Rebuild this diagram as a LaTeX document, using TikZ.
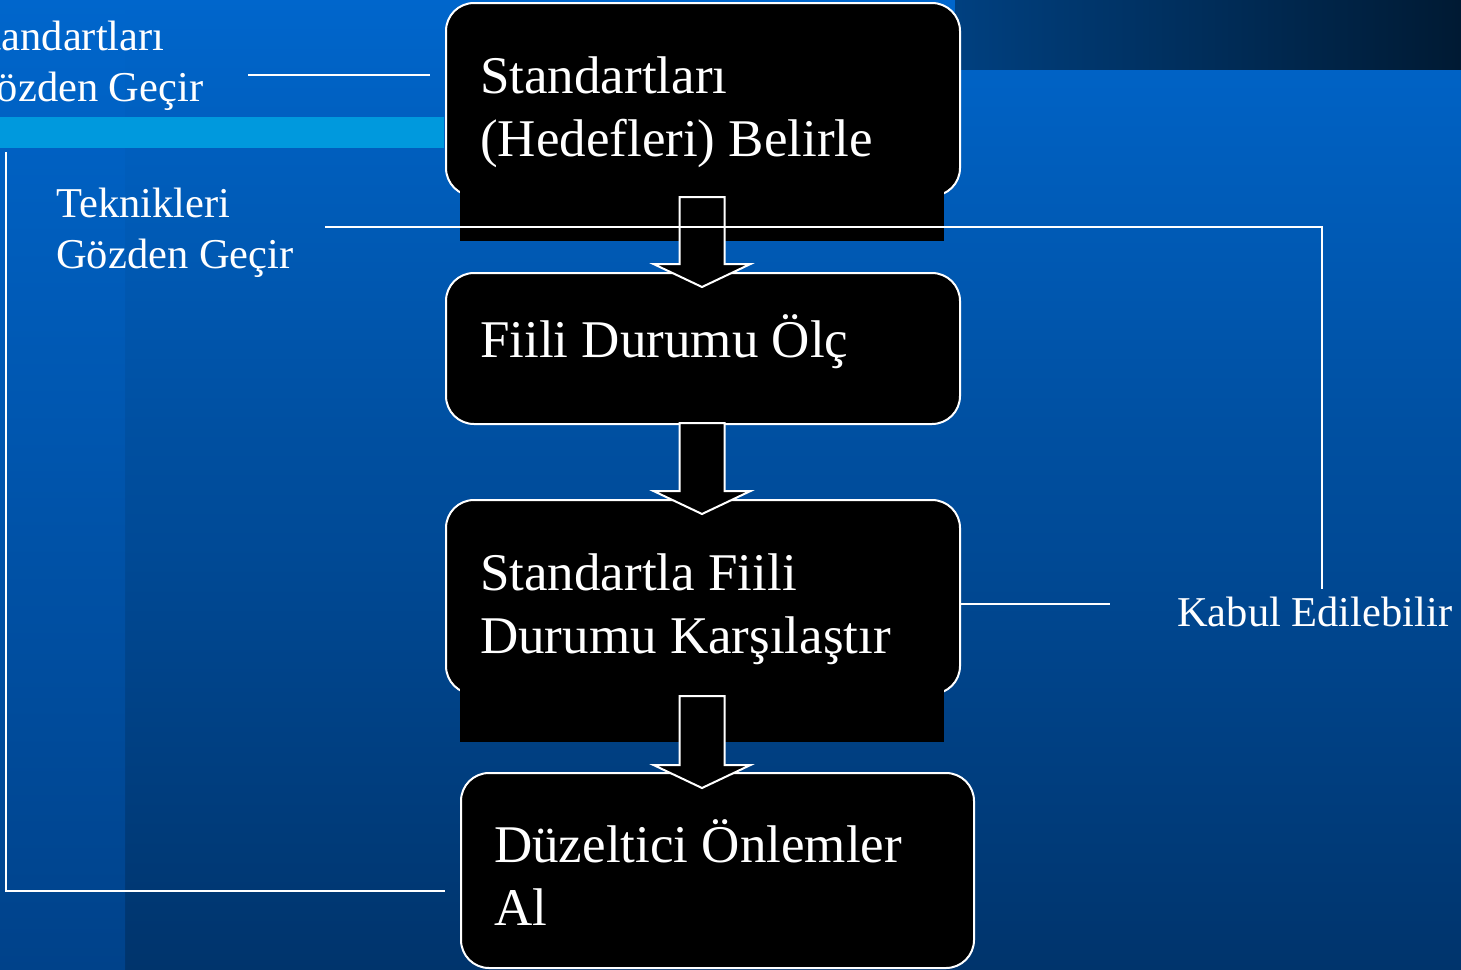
\documentclass[tikz,border=0pt]{standalone}
\usepackage{fontspec}
\setmainfont{Liberation Serif}
\definecolor{bgtop}{HTML}{0066CC}
\definecolor{bgbot}{HTML}{00346C}
\definecolor{stripbot}{HTML}{00428A}
\definecolor{bandleft}{HTML}{004080}
\definecolor{bandright}{HTML}{001A33}
\definecolor{lightband}{HTML}{0099DD}
\tikzset{
  procbox/.style={draw=white, line width=2pt, fill=black, rounded corners=28pt, inner sep=0pt, anchor=north west},
  overflowbox/.style={fill=black, inner sep=0pt, anchor=north west},
  wire/.style={draw=white, line width=2pt},
  blockarrow/.style={draw=white, line width=2pt, fill=black, line join=miter},
  boxtext/.style={text=white, font=\fontsize{53}{63.5}\selectfont, inner sep=0pt, anchor=base west},
  sidelabel/.style={text=white, font=\fontsize{42.5}{51}\selectfont, inner sep=0pt, anchor=base west},
}
\newcommand\downblock[3]{%
  \draw[blockarrow] ({#1-22.5},#2) -- ({#1+22.5},#2) -- ({#1+22.5},{#3-23}) -- ({#1+48.5},{#3-23})
    -- (#1,#3) -- ({#1-48.5},{#3-23}) -- ({#1-22.5},{#3-23}) -- cycle;}
\begin{document}
\begin{tikzpicture}[x=1pt,y=-1pt]
\useasboundingbox (0,0) rectangle (1461,969);
\clip (0,0) rectangle (1461,969);
% background
\shade[top color=bgtop, bottom color=bgbot] (0,0) rectangle (1461,969);
\shade[top color=bgtop, bottom color=stripbot] (0,0) rectangle (125,969);
\shade[left color=bandleft, right color=bandright] (955,0) rectangle (1461,69);
\fill[lightband] (0,117) rectangle (444,148);

% boxes
\node[procbox, minimum width=514pt, minimum height=193pt] (b1) at (445,2) {};
\node[overflowbox, minimum width=484pt, minimum height=91pt] (b1x) at (460,150) {};
\node[procbox, minimum width=514pt, minimum height=151pt] (b2) at (445,272) {};
\node[procbox, minimum width=514pt, minimum height=194pt] (b3) at (445,499) {};
\node[overflowbox, minimum width=484pt, minimum height=102pt] (b3x) at (460,640) {};
\node[procbox, minimum width=513pt, minimum height=195pt] (b4) at (460,772) {};

% box texts
\node[boxtext] (t1) at (480,93) {\parbox[t]{460pt}{Standartları\\(Hedefleri) Belirle}};
\node[boxtext] (t2) at (480,357) {Fiili Durumu Ölç};
\node[boxtext] (t3) at (480,590) {\parbox[t]{460pt}{Standartla Fiili\\Durumu Karşılaştır}};
\node[boxtext] (t4) at (494,862) {\parbox[t]{460pt}{Düzeltici Önlemler\\Al}};

% block arrows
\downblock{702}{197}{287}
\downblock{702}{423}{514}
\downblock{702}{696}{788}

% side labels
\node[sidelabel] (l1) at (-34,50) {\parbox[t]{300pt}{Standartları\\Gözden Geçir}};
\node[sidelabel] (l2) at (56,217) {\parbox[t]{300pt}{Teknikleri\\Gözden Geçir}};
\node[sidelabel] (l3) at (1177,626) {Kabul Edilebilir};

% connectors
\coordinate (c1a) at (248,75);
\coordinate (c1b) at (430,75);
\draw[wire] (c1a) -- (c1b);

\coordinate (c2a) at (325,227);
\coordinate (c2b) at (1322,227);
\coordinate (c2c) at (1322,589);
\draw[wire] (c2a) -- (c2b) -- (c2c);

\coordinate (c3a) at (b3.east |- 0,604);
\coordinate (c3b) at (1110,604);
\draw[wire] (c3a) -- (c3b);

\coordinate (c4a) at (6,152);
\coordinate (c4b) at (6,891);
\coordinate (c4c) at (445,891);
\draw[wire] (c4a) -- (c4b) -- (c4c);
\end{tikzpicture}
\end{document}
